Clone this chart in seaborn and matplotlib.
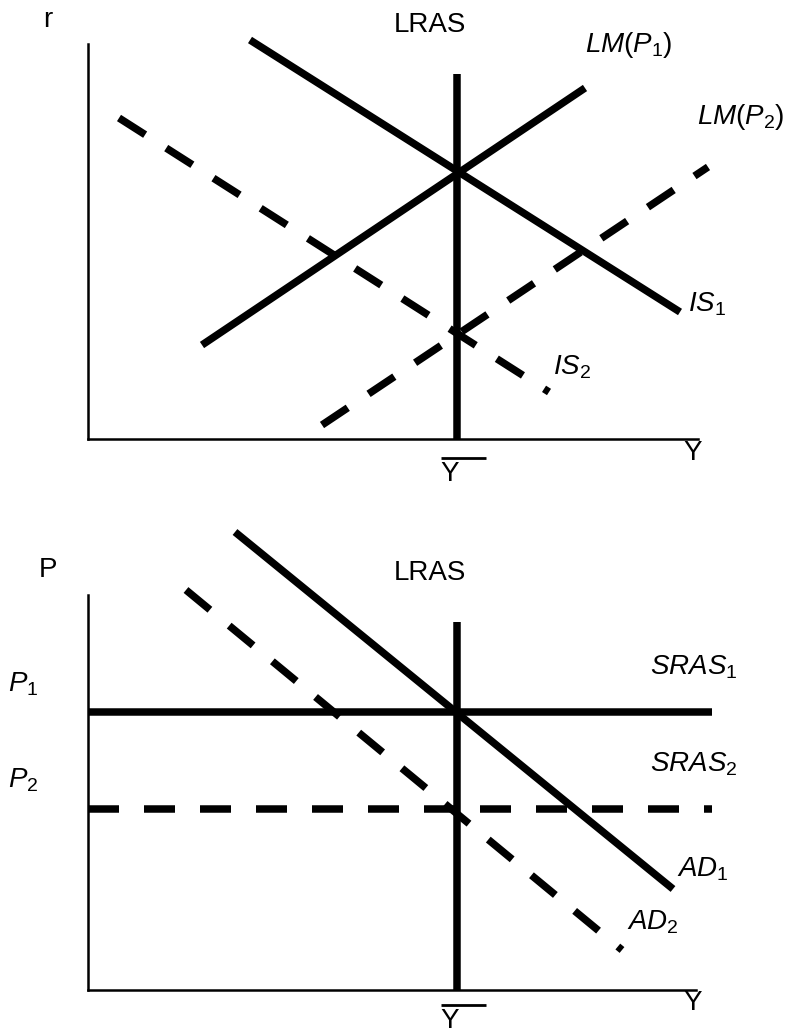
import matplotlib
matplotlib.use("Agg")
import matplotlib.pyplot as plt
import seaborn as sns

# IS-LM panel: output Y (x) and interest rate r (y), measured from the origin
is1_y, is1_r = [162, 592], [399, 127]
is2_y, is2_r = [31, 461], [321, 47]
lm1_y, lm1_r = [114, 497], [94, 351]
lm2_y, lm2_r = [234, 620], [14, 272]
lras_top_y, lras_top_r = [369, 369], [0, 365]

# AD-AS panel: output Y (x) and price level P (y)
ad1_y, ad1_p = [147, 585], [458, 101]
ad2_y, ad2_p = [98, 534], [400, 40]
sras1_y, sras1_p = [0, 624], [278, 278]
sras2_y, sras2_p = [0, 624], [181, 181]
lras_bot_y, lras_bot_p = [369, 369], [0, 368]

sns.set_theme(style="white")
plt.rcParams["font.family"] = ["Liberation Sans", "DejaVu Sans"]
plt.rcParams["text.color"] = "black"
plt.rcParams["mathtext.fontset"] = "custom"
plt.rcParams["mathtext.rm"] = "Liberation Sans"
plt.rcParams["mathtext.it"] = "Liberation Sans:italic"

LW = 5.4                      # thick curve width (pt)
PX = 0.72                     # 1 px in pt at dpi 100
DASH = (0, (31 * PX / LW, 25 * PX / LW))
AXW = 1.8
FS = 20


def curve(ax, x, y, dashed=False):
    sns.lineplot(x=x, y=y, estimator=None, sort=False, color="black", lw=LW,
                 linestyle=DASH if dashed else "-", solid_capstyle="butt",
                 dash_capstyle="butt", ax=ax)


def frame(ax, ylim, ytop, xright):
    ax.set_xlim(-88, 700)
    ax.set_ylim(*ylim)
    ax.set_xticks([])
    ax.set_yticks([])
    ax.set_xlabel("")
    ax.set_ylabel("")
    ax.set_facecolor("none")
    sns.despine(ax=ax)
    for side in ("left", "bottom"):
        sp = ax.spines[side]
        sp.set_position(("data", 0))
        sp.set_linewidth(AXW)
        sp.set_color("black")
    ax.spines["left"].set_bounds(0, ytop)
    ax.spines["bottom"].set_bounds(0, xright)


def ybar(ax, ytext, yline):
    ax.text(362, ytext, "Y", fontsize=FS, ha="center", va="center")
    ax.plot([353, 398], [yline, yline], color="black", lw=2.0, clip_on=False,
            solid_capstyle="butt")


fig = plt.figure(figsize=(7.88, 10.32), dpi=100)
fig.patch.set_facecolor("white")

# ---- top: IS-LM ----
ax1 = fig.add_axes([0, 0.5, 1, 0.5])
curve(ax1, lras_top_y, lras_top_r)
curve(ax1, is1_y, is1_r)
curve(ax1, lm1_y, lm1_r)
curve(ax1, is2_y, is2_r, dashed=True)
curve(ax1, lm2_y, lm2_r, dashed=True)
frame(ax1, (-77, 439), 395, 610)
ax1.text(-40, 419, "r", fontsize=FS, ha="center", va="center")
ax1.text(342, 414, "LRAS", fontsize=FS, ha="center", va="center")
ax1.text(497, 394, r"$LM(P_1)$", fontsize=FS, ha="left", va="center")
ax1.text(609, 322, r"$LM(P_2)$", fontsize=FS, ha="left", va="center")
ax1.text(600, 135, r"$IS_1$", fontsize=FS, ha="left", va="center")
ax1.text(465, 72, r"$IS_2$", fontsize=FS, ha="left", va="center")
ax1.text(605, -14, "Y", fontsize=FS, ha="center", va="center")
ybar(ax1, -35, -19)

# ---- bottom: AD-AS ----
ax2 = fig.add_axes([0, 0, 1, 0.5])
curve(ax2, lras_bot_y, lras_bot_p)
curve(ax2, sras1_y, sras1_p)
curve(ax2, ad1_y, ad1_p)
curve(ax2, sras2_y, sras2_p, dashed=True)
curve(ax2, ad2_y, ad2_p, dashed=True)
frame(ax2, (-42, 474), 395, 608)
ax2.text(-40, 420, "P", fontsize=FS, ha="center", va="center")
ax2.text(342, 417, "LRAS", fontsize=FS, ha="center", va="center")
ax2.text(-80, 306, r"$P_1$", fontsize=FS, ha="left", va="center")
ax2.text(-80, 210, r"$P_2$", fontsize=FS, ha="left", va="center")
ax2.text(562, 323, r"$SRAS_1$", fontsize=FS, ha="left", va="center")
ax2.text(562, 226, r"$SRAS_2$", fontsize=FS, ha="left", va="center")
ax2.text(589, 121, r"$AD_1$", fontsize=FS, ha="left", va="center")
ax2.text(539, 68, r"$AD_2$", fontsize=FS, ha="left", va="center")
ax2.text(605, -13, "Y", fontsize=FS, ha="center", va="center")
ybar(ax2, -31, -15)

fig.savefig("out.png", dpi=100, facecolor="white")
